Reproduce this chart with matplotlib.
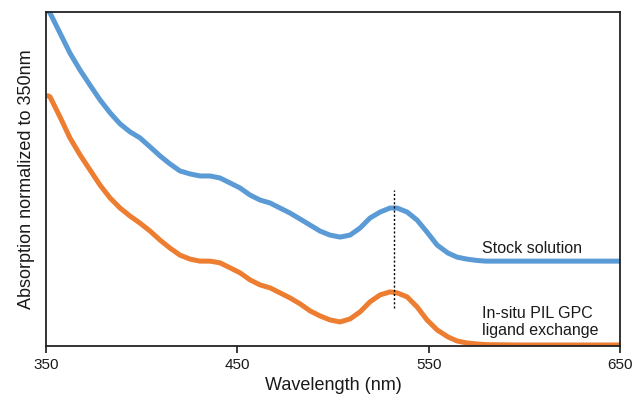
import matplotlib.pyplot as plt

plt.rcParams['font.family'] = ['Liberation Sans', 'DejaVu Sans']

# wavelength (nm) and normalized absorption
wavelength = [351.0, 352.1, 357.3, 362.5, 367.8, 373.0, 378.2, 383.5, 388.7, 393.9,
              399.1, 404.4, 409.6, 414.8, 420.0, 425.3, 430.5, 435.7, 440.9, 446.2,
              451.4, 456.6, 461.8, 467.1, 472.3, 477.5, 482.8, 488.0, 493.2, 498.4,
              503.7, 508.9, 514.1, 519.3, 524.6, 529.8, 533.5, 538.7, 543.9, 549.1,
              554.4, 560.1, 564.8, 570.0, 575.3, 580.0, 597.7, 650.0]
stock = [1.003, 0.997, 0.937, 0.877, 0.826, 0.781, 0.737, 0.698, 0.665, 0.641,
         0.623, 0.596, 0.569, 0.545, 0.524, 0.515, 0.509, 0.509, 0.503, 0.488,
         0.473, 0.452, 0.437, 0.428, 0.413, 0.398, 0.380, 0.362, 0.344, 0.332,
         0.326, 0.332, 0.353, 0.383, 0.401, 0.413, 0.413, 0.401, 0.377, 0.341,
         0.302, 0.278, 0.266, 0.260, 0.256, 0.254, 0.254, 0.254]
insitu = [0.749, 0.746, 0.686, 0.623, 0.572, 0.527, 0.482, 0.443, 0.413, 0.389,
          0.368, 0.344, 0.317, 0.293, 0.272, 0.260, 0.254, 0.254, 0.249, 0.234,
          0.219, 0.198, 0.183, 0.174, 0.159, 0.144, 0.126, 0.105, 0.090, 0.078,
          0.072, 0.081, 0.102, 0.132, 0.153, 0.162, 0.159, 0.147, 0.117, 0.078,
          0.048, 0.027, 0.015, 0.009, 0.006, 0.004, 0.003, 0.003]
peak_nm = 532
xticks = [350, 450, 550, 650]

fig = plt.figure(figsize=(6.36, 3.98), dpi=100)
ax = fig.add_axes([0.0723, 0.1307, 0.9027, 0.8393])

ax.plot(wavelength, stock, color='#5B9BD5', lw=3.6, solid_capstyle='round', solid_joinstyle='round')
ax.plot(wavelength, insitu, color='#ED7D31', lw=3.6, solid_capstyle='round', solid_joinstyle='round')
ax.plot([peak_nm, peak_nm], [0.114, 0.467], color='black', lw=1, ls=(0, (1.5, 1.5)))

ax.text(578, 0.293, 'Stock solution', fontsize=11.5, va='center', ha='left', color='#1a1a1a')
ax.text(578, 0.072, 'In-situ PIL GPC\nligand exchange', fontsize=11.5, va='center', ha='left',
        color='#1a1a1a', linespacing=1.2)

ax.set_xlim(350, 650)
ax.set_ylim(0, 1)
ax.set_xticks(xticks)
ax.set_yticks([])
ax.tick_params(axis='x', length=5, width=1.2, labelsize=11, colors='#1a1a1a', pad=4)
for s in ax.spines.values():
    s.set_linewidth(1.3)
    s.set_color('#222222')

ax.set_xlabel('Wavelength (nm)', fontsize=13, labelpad=3, color='#1a1a1a')
ax.set_ylabel('Absorption normalized to 350nm', fontsize=13, labelpad=8, color='#1a1a1a')

plt.savefig('out.png', dpi=100)
plt.close()
